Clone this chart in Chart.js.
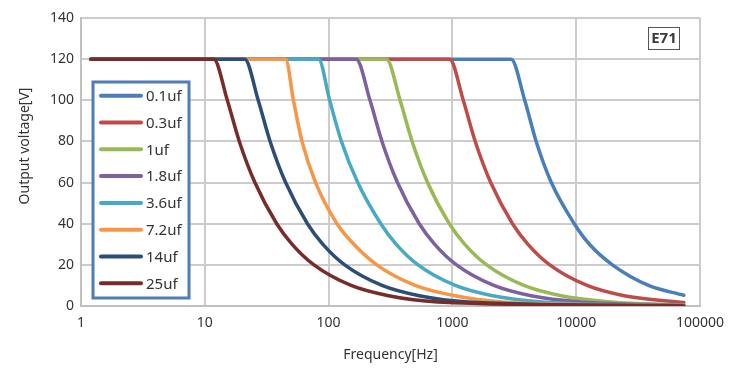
<!DOCTYPE html>
<html><head><meta charset="utf-8">
<script src="https://cdn.jsdelivr.net/npm/chart.js@4/dist/chart.umd.min.js"></script>
<style>html,body{margin:0;padding:0;background:#fff;} #wrap{width:733px;height:371px;position:relative;}</style>
</head><body>
<div id="wrap"><canvas id="c" width="733" height="371"></canvas></div>
<script>
// ---- data ----
const seriesLabels = ['0.1uf', '0.3uf', '1uf', '1.8uf', '3.6uf', '7.2uf', '14uf', '25uf'];
const seriesColors = ['#4a7ebb', '#be4b48', '#98b954', '#7d60a0', '#46aac5', '#f79646', '#2c4d75', '#772c2a'];

const freq_01uf = [1.2, 2980, 3840, 4750, 6300, 9650, 12800, 19600, 38400, 74000];
const volt_01uf = [120, 120, 100, 80, 60, 40, 30, 20, 10, 5.2];

const freq_03uf = [1.2, 950, 1224, 1530, 2040, 3060, 4080, 6120, 12240, 24480, 74000];
const volt_03uf = [120, 120, 100, 80, 60, 40, 30, 20, 10, 5, 1.65];

const freq_1uf = [1.2, 293, 378, 473, 630, 945, 1260, 1890, 3780, 7560, 18900, 74000];
const volt_1uf = [120, 120, 100, 80, 60, 40, 30, 20, 10, 5, 2, 0.5];

const freq_18uf = [1.2, 167, 216, 270, 360, 540, 720, 1080, 2160, 4320, 10800, 74000];
const volt_18uf = [120, 120, 100, 80, 60, 40, 30, 20, 10, 5, 2, 0.3];

const freq_36uf = [1.2, 83, 102, 127, 172, 264, 352, 528, 1056, 2112, 5280, 74000];
const volt_36uf = [120, 120, 100, 80, 60, 40, 30, 20, 10, 5, 2, 0.15];

const freq_72uf = [1.2, 45, 52, 61, 78.5, 117, 160, 245, 500, 1000, 2500, 74000];
const volt_72uf = [120, 120, 100, 80, 60, 40, 30, 20, 10, 5.2, 2, 0.1];

const freq_14uf = [1.2, 21, 27, 33.7, 45, 67.5, 90, 135, 270, 540, 1350, 74000];
const volt_14uf = [120, 120, 100, 80, 60, 40, 30, 20, 10, 5, 2, 0.04];

const freq_25uf = [1.2, 11.8, 15.2, 19, 25.4, 38.1, 50.8, 76.2, 152, 305, 762, 74000];
const volt_25uf = [120, 120, 100, 80, 60, 40, 30, 20, 10, 5, 2, 0.02];

const seriesFreq = [freq_01uf, freq_03uf, freq_1uf, freq_18uf, freq_36uf, freq_72uf, freq_14uf, freq_25uf];
const seriesVolt = [volt_01uf, volt_03uf, volt_1uf, volt_18uf, volt_36uf, volt_72uf, volt_14uf, volt_25uf];

const xTickValues = [1, 10, 100, 1000, 10000, 100000];
const yTickValues = [0, 20, 40, 60, 80, 100, 120, 140];

const xTitle = 'Frequency[Hz]';
const yTitle = 'Output voltage[V]';
const badgeText = 'E71';

// ---- chart ----
const FONT = "'Noto Sans', 'Open Sans', sans-serif";

const datasets = seriesLabels.map((lab, i) => ({
  label: lab,
  data: seriesFreq[i].map((f, k) => ({x: f, y: seriesVolt[i][k]})),
  borderColor: seriesColors[i],
  backgroundColor: seriesColors[i],
  borderWidth: 3.5,
  pointRadius: 0,
  pointHoverRadius: 0,
  fill: false,
  cubicInterpolationMode: 'monotone',
  borderCapStyle: 'round',
  borderJoinStyle: 'round',
  order: seriesLabels.length - 1 - i
}));

const overlayPlugin = {
  id: 'overlay',
  afterDraw(chart) {
    const ctx = chart.ctx;
    ctx.save();
    // legend box
    const bx = 93, by = 82, bw = 96, bh = 216;
    ctx.fillStyle = '#ffffff';
    ctx.fillRect(bx, by, bw, bh);
    ctx.lineWidth = 3;
    ctx.strokeStyle = '#4f7db5';
    ctx.strokeRect(bx, by, bw, bh);
    const rowH = 26.8;
    ctx.font = '15px ' + FONT;
    ctx.textBaseline = 'middle';
    ctx.textAlign = 'left';
    seriesLabels.forEach((lab, i) => {
      const y = by + 13.7 + i * rowH;
      ctx.beginPath();
      ctx.lineCap = 'round';
      ctx.lineWidth = 4;
      ctx.strokeStyle = seriesColors[i];
      ctx.moveTo(101, y);
      ctx.lineTo(141, y);
      ctx.stroke();
      ctx.fillStyle = '#333333';
      ctx.fillText(lab, 146, y + 1);
    });
    // badge
    ctx.lineWidth = 1;
    ctx.strokeStyle = '#555555';
    ctx.strokeRect(648.5, 27.5, 31, 22);
    ctx.fillStyle = '#3a3a3a';
    ctx.font = 'bold 15px ' + FONT;
    ctx.textAlign = 'center';
    ctx.fillText(badgeText, 664, 39);
    // y title
    ctx.translate(25, 146);
    ctx.rotate(-Math.PI / 2);
    ctx.font = '14px ' + FONT;
    ctx.fillStyle = '#333333';
    ctx.textAlign = 'center';
    ctx.fillText(yTitle, 0, 0);
    ctx.restore();
  }
};

new Chart(document.getElementById('c'), {
  type: 'line',
  data: { datasets },
  options: {
    responsive: false,
    animation: false,
    devicePixelRatio: 1,
    layout: { padding: { left: 0, right: 30, top: 18, bottom: 0 } },
    plugins: { legend: { display: false }, tooltip: { enabled: false } },
    scales: {
      x: {
        type: 'logarithmic',
        min: 1, max: 100000,
        afterBuildTicks: (s) => { s.ticks = xTickValues.map(v => ({ value: v })); },
        afterFit: (s) => { s.height = 65; },
        ticks: {
          autoSkip: false, maxRotation: 0, padding: 9,
          color: '#333333', font: { family: FONT, size: 14 },
          callback: (v) => String(v)
        },
        grid: { color: '#cccccc', lineWidth: 2, drawTicks: false },
        border: { color: '#c0c0c0', width: 2 },
        title: { display: true, text: xTitle, color: '#333333', font: { family: FONT, size: 14 }, padding: { top: 0, bottom: 8 } }
      },
      y: {
        min: 0, max: 140,
        afterBuildTicks: (s) => { s.ticks = yTickValues.map(v => ({ value: v })); },
        afterFit: (s) => { s.width = 81; },
        ticks: { padding: 7, color: '#333333', font: { family: FONT, size: 14 } },
        grid: { color: '#cccccc', lineWidth: 2, drawTicks: false },
        border: { color: '#c0c0c0', width: 2 }
      }
    }
  },
  plugins: [overlayPlugin]
});
</script>
</body></html>
